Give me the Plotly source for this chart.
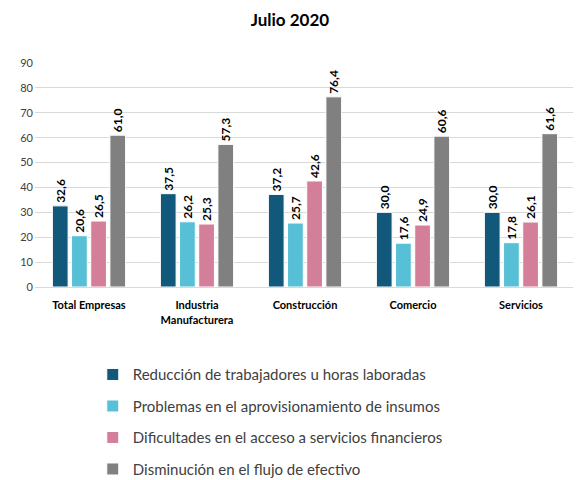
import plotly.graph_objects as go

categories = ["Total Empresas", "Industria<br>Manufacturera", "Construcción", "Comercio", "Servicios"]
series_names = [
    "Reducción de trabajadores u horas laboradas",
    "Problemas en el aprovisionamiento de insumos",
    "Dificultades en el acceso a servicios financieros",
    "Disminución en el flujo de efectivo",
]
reduccion = [32.6, 37.5, 37.2, 30.0, 30.0]
problemas = [20.6, 26.2, 25.7, 17.6, 17.8]
dificultades = [26.5, 25.3, 42.6, 24.9, 26.1]
disminucion = [61.0, 57.3, 76.4, 60.6, 61.6]
colors = ["#11587A", "#57BFD6", "#D47F99", "#808080"]

font_family = "Lato, 'Open Sans', sans-serif"

fig = go.Figure()
for i, (name, vals) in enumerate(zip(series_names, [reduccion, problemas, dificultades, disminucion])):
    fig.add_trace(go.Bar(
        x=categories, y=vals, name=name,
        marker=dict(color=colors[i], line=dict(color="white", width=1)),
        text=[f"{v:.1f}".replace(".", ",") for v in vals],
        textposition="outside", textangle=-90,
        textfont=dict(family=font_family, size=12, color="#000000", weight="bold"),
        constraintext="none", cliponaxis=False,
        legendgroup=f"g{i}",
    ))

fig.update_layout(
    width=573, height=472,
    paper_bgcolor="white", plot_bgcolor="white",
    margin=dict(l=27, r=6, t=55, b=193, autoexpand=False),
    barmode="group", bargap=0.29, bargroupgap=0.18,
    title=dict(text="<b>Julio 2020</b>", x=0.492, xanchor="center", y=0.975, yanchor="middle",
               font=dict(family=font_family, size=17, color="#000000")),
    font=dict(family=font_family, color="#404040"),
    yaxis=dict(range=[0, 90], dtick=10, showgrid=True, gridcolor="#D9D9D9", gridwidth=1,
               zeroline=False, tickfont=dict(size=11, color="#404040"), ticks="",
               showline=False, automargin=False, ticklabelstandoff=1),
    xaxis=dict(tickfont=dict(size=11, color="#000000", weight="bold"), showline=True,
               linecolor="#D9D9D9", linewidth=1, ticks="", automargin=False,
               ticklabelstandoff=8),
    legend=dict(orientation="v", x=0.107, xanchor="left", y=-0.318, yanchor="top",
                font=dict(family=font_family, size=15, color="#404040"),
                tracegroupgap=9, itemwidth=30),
    showlegend=True,
)

fig.write_html("out.html")
